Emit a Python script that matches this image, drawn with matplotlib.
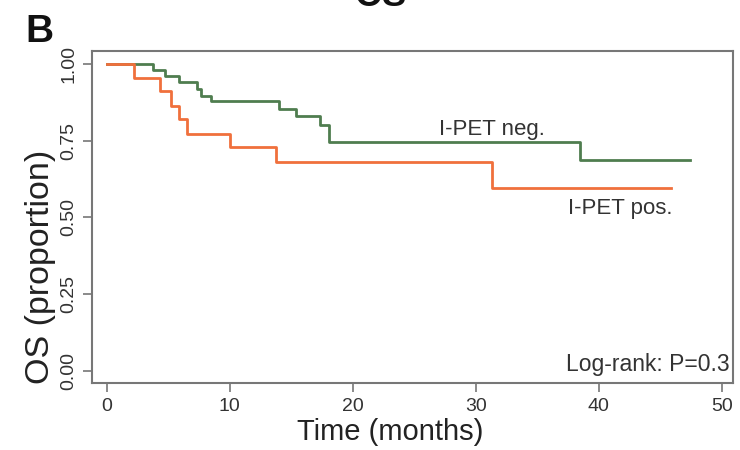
import matplotlib.pyplot as plt

# Kaplan-Meier curves, step points (months, proportion surviving)
neg_time = [0, 3.8, 4.7, 5.9, 7.3, 7.7, 8.5, 14.0, 15.4, 17.3, 18.1, 38.5, 47.4]
neg_surv = [1.0, 0.981, 0.962, 0.941, 0.919, 0.897, 0.878, 0.853, 0.829, 0.802, 0.745, 0.688, 0.688]
pos_time = [0, 2.2, 4.3, 5.2, 5.9, 6.5, 10.0, 13.8, 31.3, 45.9]
pos_surv = [1.0, 0.954, 0.911, 0.864, 0.820, 0.772, 0.728, 0.681, 0.597, 0.597]

x_ticks = [0, 10, 20, 30, 40, 50]
y_ticks = [0.0, 0.25, 0.5, 0.75, 1.0]
y_tick_labels = ["0.00", "0.25", "0.50", "0.75", "1.00"]

GREEN = "#4f7d4f"
ORANGE = "#f0703c"
TEXT = "#333333"
FRAME = "#777777"
font = ["Liberation Sans", "DejaVu Sans"]

fig = plt.figure(figsize=(7.4, 4.5), dpi=100)
ax = fig.add_axes([0.1243, 0.149, 0.866, 0.738])

ax.step(neg_time, neg_surv, where="post", color=GREEN, lw=2)
ax.step(pos_time, pos_surv, where="post", color=ORANGE, lw=2)

ax.set_xlim(-1.2, 50.9)
ax.set_ylim(-0.04, 1.043)

ax.set_xticks(x_ticks)
ax.set_xticklabels([str(t) for t in x_ticks], family=font, fontsize=14, color=TEXT)
ax.set_yticks(y_ticks)
ax.set_yticklabels(y_tick_labels, family=font, fontsize=14, color=TEXT,
                   rotation=90, va="center")
ax.tick_params(length=6.5, width=1.2, color=FRAME, pad=4)
for s in ax.spines.values():
    s.set_color(FRAME)
    s.set_linewidth(1.5)

ax.set_xlabel("Time (months)", family=font, fontsize=21, color="#222222")
ax.xaxis.set_label_coords(0.465, -0.105)
ax.set_ylabel("OS (proportion)", family=font, fontsize=24.5, color="#222222",
              labelpad=3, y=0.35)

ax.text(27.0, 0.769, "I-PET neg.", family=font, fontsize=16, color=TEXT, va="baseline")
ax.text(37.5, 0.511, "I-PET pos.", family=font, fontsize=16, color=TEXT, va="baseline")
ax.text(50.6, 0.0, "Log-rank: P=0.3", family=font, fontsize=16.5, color=TEXT,
        ha="right", va="baseline")

fig.text(0.034, 0.907, "B", family=font, fontsize=28, fontweight="bold",
         color="#111111", va="baseline")
fig.text(0.514, 0.987, "OS", family=font, fontsize=26, fontweight="bold",
         color="#111111", ha="center", va="baseline")

fig.savefig("out.png", dpi=100, facecolor="white")
